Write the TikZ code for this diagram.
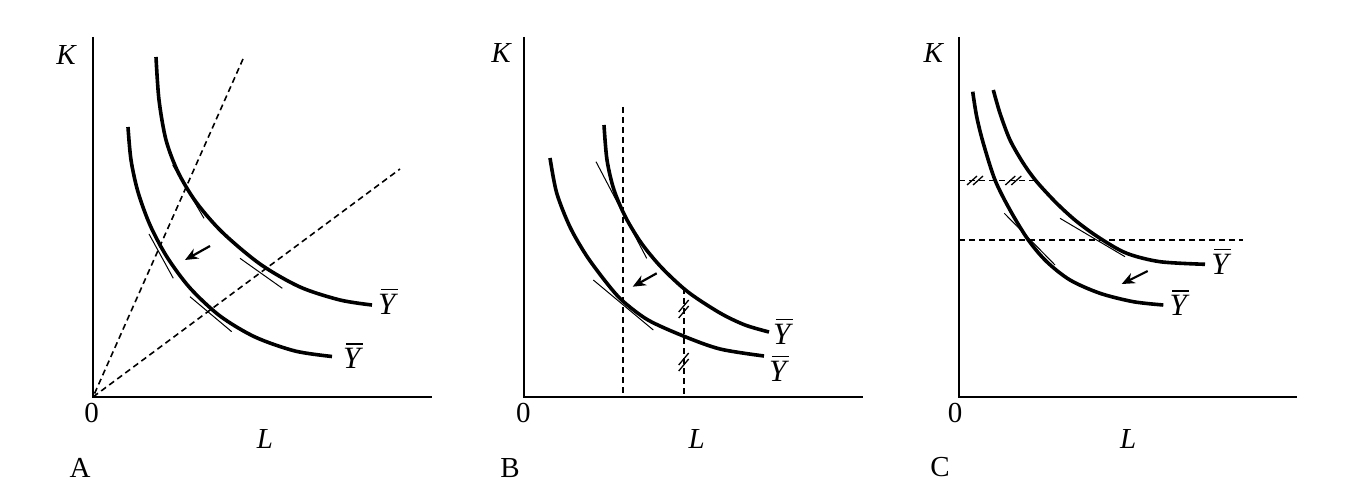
\documentclass[tikz,border=0pt]{standalone}
\usepackage{fontspec}
\setmainfont{Liberation Serif}
\usetikzlibrary{arrows.meta}

\tikzset{
  axisline/.style={line width=1.8pt},
  isoquant/.style={line width=3.6pt},
  guideline/.style={line width=1.6pt, dash pattern=on 6pt off 4pt},
  tangentline/.style={line width=1pt},
  cutline/.style={line width=1.3pt},
  barline/.style={line width=1.5pt},
  shiftarrow/.style={line width=2.2pt, -{Stealth[length=13pt,width=11pt]}},
  every node/.style={font=\fontsize{29}{32}\selectfont, inner sep=0pt},
  ylabel/.style={font=\fontsize{31}{34}\selectfont\itshape}
}
% two short strokes across a dashed guide
\newcommand{\cutmark}[5]{%
  \foreach \s in {-1,1}{\draw[cutline] ([shift={(\s*#2-#4,\s*#3+#5)}]#1) -- ([shift={(\s*#2+#4,\s*#3-#5)}]#1);}}
% Y with a bar over it
\newcommand{\ybarnode}[3]{%
  \node[ylabel] (#1) at (#2,#3) {Y};
  \draw[barline] ([xshift=3pt,yshift=4pt]#1.north west) -- ([xshift=2pt,yshift=4pt]#1.north east);}

\begin{document}
\begin{tikzpicture}[x=1pt,y=-1pt]
  \useasboundingbox (0,0) rectangle (1368,494);

  % panel A
  \coordinate (OA) at (93,397);
  \coordinate (KA) at (93,37);
  \coordinate (LA) at (432,397);
  \draw[axisline] (KA) -- (OA) -- (LA);
  \coordinate (RA1) at (243,59);
  \coordinate (RA2) at (400,169);
  \draw[guideline] (RA1) -- (OA) -- (RA2);
  \draw[isoquant] plot[smooth] coordinates {(156,57) (159,100) (166,140) (178,172) (196,202) (222,232) (260,264) (300,287) (340,300) (372,305)};
  \draw[isoquant] plot[smooth] coordinates {(128,127) (131,160) (138,192) (150,225) (167,257) (190,288) (220,316) (255,337) (295,351) (332,356.5)};
  \draw[tangentline] (172.7,165) -- (204,218.3);
  \draw[tangentline] (240,258.3) -- (282.3,288.3);
  \draw[tangentline] (149,234) -- (173.3,278.3);
  \draw[tangentline] (190,296.7) -- (231.7,331.7);
  \coordinate (aA1) at (210,246);
  \coordinate (aA2) at (185,260);
  \draw[shiftarrow] (aA1) -- (aA2);
  \node (kA) at (66.7,55) {\textit{K}};
  \node (zA) at (91.7,413) {0};
  \node (lA) at (265,439) {\textit{L}};
  \node (tA) at (80,468) {A};
  \ybarnode{yA1}{386.7}{304}
  \ybarnode{yA2}{351.7}{358.5}

  % panel B
  \coordinate (OB) at (524,397);
  \coordinate (KB) at (524,37);
  \coordinate (LB) at (863,397);
  \draw[axisline] (KB) -- (OB) -- (LB);
  \coordinate (vB1) at (622.7,107);
  \coordinate (vB2) at (683.7,288);
  \draw[guideline] (vB1) -- (vB1 |- OB);
  \draw[guideline] (vB2) -- (vB2 |- OB);
  \draw[isoquant] plot[smooth] coordinates {(604,125) (607,160) (614,190) (626,218) (642,244) (662,268) (688,292) (720,313) (745,325) (769,332)};
  \draw[isoquant] plot[smooth] coordinates {(550,158) (556.7,193) (570,227) (586.7,256) (606.7,283) (622.7,301) (648,320) (683.3,336) (720,349) (764,356)};
  \draw[tangentline] (596,161.7) -- (646.7,258.3);
  \draw[tangentline] (593.3,280) -- (653.3,330);
  \coordinate (mB1) at (683.7,309);
  \coordinate (mB2) at (683.7,362);
  \cutmark{mB1}{0}{3}{5}{6}
  \cutmark{mB2}{0}{3}{5}{6}
  \coordinate (aB1) at (656.7,273.3);
  \coordinate (aB2) at (632.7,286.7);
  \draw[shiftarrow] (aB1) -- (aB2);
  \node (kB) at (501.7,53.3) {\textit{K}};
  \node (zB) at (523.3,413) {0};
  \node (lB) at (696.7,439) {\textit{L}};
  \node (tB) at (510,468) {B};
  \ybarnode{yB1}{781.7}{334}
  \ybarnode{yB2}{777.7}{371}

  % panel C
  \coordinate (OC) at (959,397);
  \coordinate (KC) at (959,37);
  \coordinate (LC) at (1297,397);
  \draw[axisline] (KC) -- (OC) -- (LC);
  \coordinate (hC1) at (1037,180.5);
  \coordinate (hC2) at (1243,240);
  \draw[guideline] (hC1 -| OC) -- (hC1);
  \draw[guideline] (hC2 -| OC) -- (hC2);
  \draw[isoquant] plot[smooth] coordinates {(993.3,90) (1000,113.3) (1010,140) (1023.3,163.3) (1036.7,181.7) (1056.7,203.3) (1076.7,221.5) (1100,238.3) (1126.7,253.3) (1160,261.7) (1205,264.3)};
  \draw[isoquant] plot[smooth] coordinates {(972.7,91.7) (976.7,116.7) (983.3,143.3) (995,180) (1010,210) (1028.3,240) (1046.7,261.7) (1070,280) (1100,293.3) (1133.3,301.7) (1163.3,305)};
  \draw[tangentline] (1060,218.3) -- (1125,256.7);
  \draw[tangentline] (1004.3,213.3) -- (1055,265);
  \coordinate (mC1) at (975,180.5);
  \coordinate (mC2) at (1013.3,180.5);
  \cutmark{mC1}{3}{0}{5}{4.5}
  \cutmark{mC2}{3}{0}{5}{4.5}
  \coordinate (aC1) at (1147.7,271);
  \coordinate (aC2) at (1121.7,284);
  \draw[shiftarrow] (aC1) -- (aC2);
  \node (kC) at (934,53.3) {\textit{K}};
  \node (zC) at (955,413) {0};
  \node (lC) at (1128.3,439) {\textit{L}};
  \node (tC) at (940,466.7) {C};
  \ybarnode{yC1}{1220}{264}
  \ybarnode{yC2}{1178.3}{305.5}
\end{tikzpicture}
\end{document}
